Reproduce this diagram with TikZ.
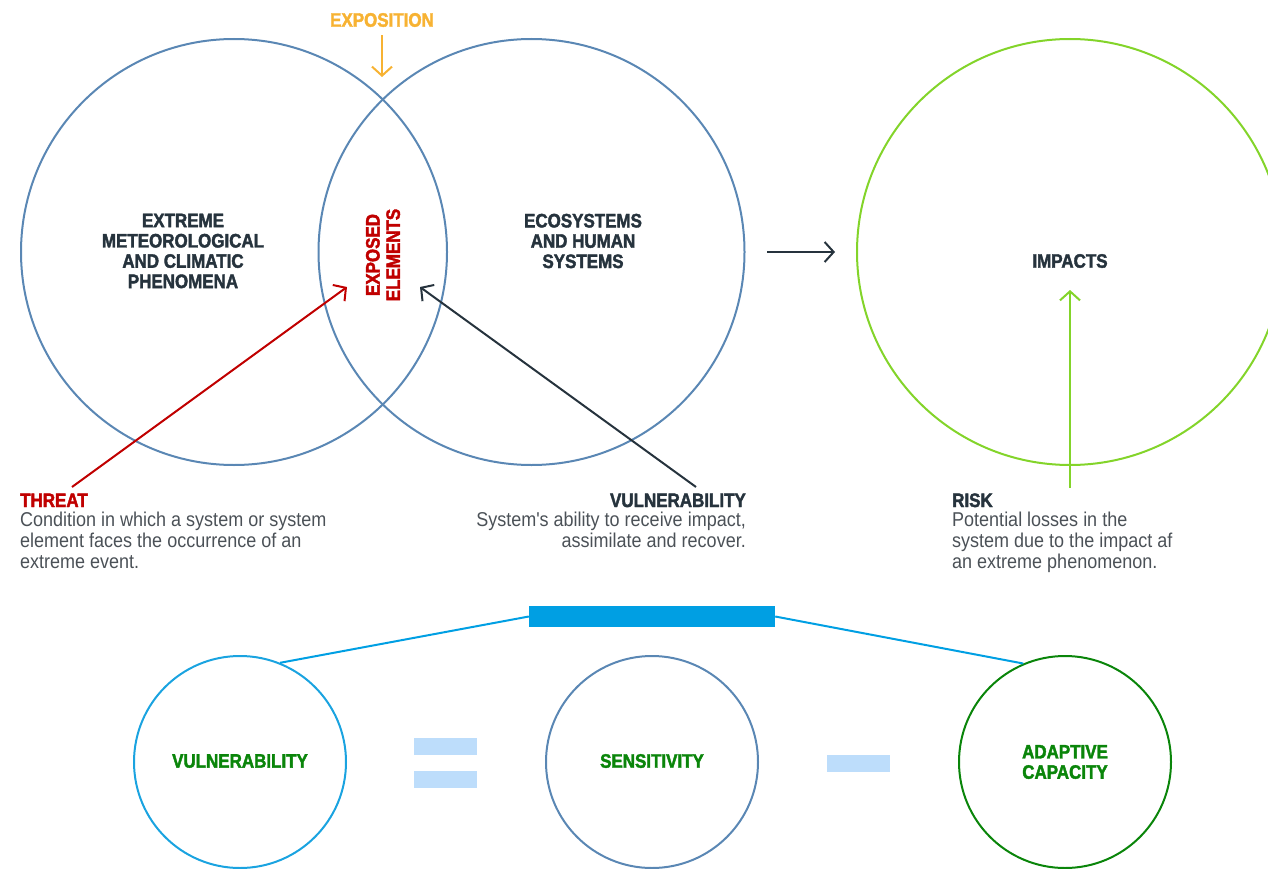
\documentclass[tikz,border=0pt]{standalone}
\usepackage{fontspec}
\setmainfont{Liberation Sans}
\newfontfamily\headfont[FakeStretch=0.87, BoldFeatures={FakeBold=2}]{Liberation Sans}
\newfontfamily\bodyfont[FakeStretch=0.9]{Liberation Sans}
\usetikzlibrary{arrows.meta}
\definecolor{circblue}{HTML}{5A87B4}
\definecolor{threatred}{HTML}{C00000}
\definecolor{darkslate}{HTML}{26333D}
\definecolor{expoorange}{HTML}{F7B232}
\definecolor{limegreen}{HTML}{83D42A}
\definecolor{barblue}{HTML}{009FE3}
\definecolor{paleblue}{HTML}{BDDDFB}
\definecolor{deepgreen}{HTML}{0A850A}
\definecolor{cyanring}{HTML}{1AA3E0}
\definecolor{bodygrey}{HTML}{4B5157}
\tikzset{
  ring/.style={circle, draw=circblue, line width=2pt, minimum size=426pt, inner sep=0pt},
  smallring/.style={circle, line width=2pt, minimum size=212pt, inner sep=0pt},
  heading/.style={font=\headfont\bfseries\fontsize{19.5}{20.3}\selectfont, align=center, inner sep=0pt},
  bodytext/.style={font=\bodyfont\fontsize{20}{21}\selectfont, inner sep=0pt, text=bodygrey},
  pointer/.style={line width=2pt, -{Straight Barb[length=9pt, width=20pt, line width=2pt]}},
  signbar/.style={fill=paleblue, draw=none, minimum width=63pt, minimum height=17pt, inner sep=0pt},
}
\begin{document}
\begin{tikzpicture}[x=1pt, y=-1pt]
\useasboundingbox (0,0) rectangle (1268,869);

% three large circles of the risk scheme
\node[ring] (hazard) at (234,252) {};
\node[ring] (systems) at (531.5,252) {};
\node[ring, draw=limegreen] (impacts) at (1070,252) {};

% circle captions
\node[heading, text=darkslate] (hazardtxt) at (183,251) {EXTREME\\METEOROLOGICAL\\AND CLIMATIC\\PHENOMENA};
\node[heading, text=darkslate] (systemstxt) at (583,241) {ECOSYSTEMS\\AND HUMAN\\SYSTEMS};
\node[heading, text=darkslate] (impactstxt) at (1070,261) {IMPACTS};
\node[heading, text=threatred, rotate=90] (exposed) at (383,255) {EXPOSED\\ELEMENTS};

% exposition marker
\node[heading, text=expoorange] (expo) at (382,20) {EXPOSITION};
\coordinate (expotip) at (382,77);
\draw[pointer, draw=expoorange] (expo.south) ++(0,8) -- (expotip);

% arrow from the overlap to the impacts
\coordinate (flowstart) at (767,252);
\coordinate (flowend) at (835,252);
\draw[pointer, draw=darkslate] (flowstart) -- (flowend);

% threat, vulnerability and risk notes
\node[heading, text=threatred, anchor=base west] (threat) at (20,507) {THREAT};
\node[bodytext, anchor=north west, align=left] (threatbody) at (20,512)
  {Condition in which a system or system\\element faces the occurrence of an\\extreme event.};
\node[heading, text=darkslate, anchor=base east] (vuln) at (746,507) {VULNERABILITY};
\node[bodytext, anchor=north east, align=right] (vulnbody) at (746,512)
  {System's ability to receive impact,\\assimilate and recover.};
\node[heading, text=darkslate, anchor=base west] (risk) at (952,507) {RISK};
\node[bodytext, anchor=north west, align=left] (riskbody) at (952,512)
  {Potential losses in the\\system due to the impact af\\an extreme phenomenon.};

\coordinate (threatfoot) at (72,487);
\coordinate (threathead) at (347,287);
\draw[pointer, draw=threatred] (threatfoot) -- (threathead);
\coordinate (vulnfoot) at (696,487);
\coordinate (vulnhead) at (420,287);
\draw[pointer, draw=darkslate] (vulnfoot) -- (vulnhead);
\coordinate (riskfoot) at (1070,488);
\coordinate (riskhead) at (1070,290);
\draw[pointer, draw=limegreen] (riskfoot) -- (riskhead);

% vulnerability equation
\node[fill=barblue, minimum width=246pt, minimum height=21pt, inner sep=0pt] (bar) at (652,616.5) {};
\node[smallring, draw=cyanring] (vulnring) at (240,762) {};
\node[smallring, draw=circblue] (sensring) at (652,762) {};
\node[smallring, draw=deepgreen] (adaptring) at (1065,762) {};
\node[heading, text=deepgreen] (vulnlabel) at (240,761) {VULNERABILITY};
\node[heading, text=deepgreen] (senslabel) at (652,761) {SENSITIVITY};
\node[heading, text=deepgreen] (adaptlabel) at (1065,762) {ADAPTIVE\\CAPACITY};
\draw[barblue, line width=2pt] (bar.west) -- (vulnring.68);
\draw[barblue, line width=2pt] (bar.east) -- (adaptring.113);

% equals and minus signs
\node[signbar] (equalstop) at (445.5,746.5) {};
\node[signbar] (equalsbottom) at (445.5,779.5) {};
\node[signbar] (minus) at (858.5,763.5) {};
\end{tikzpicture}
\end{document}
